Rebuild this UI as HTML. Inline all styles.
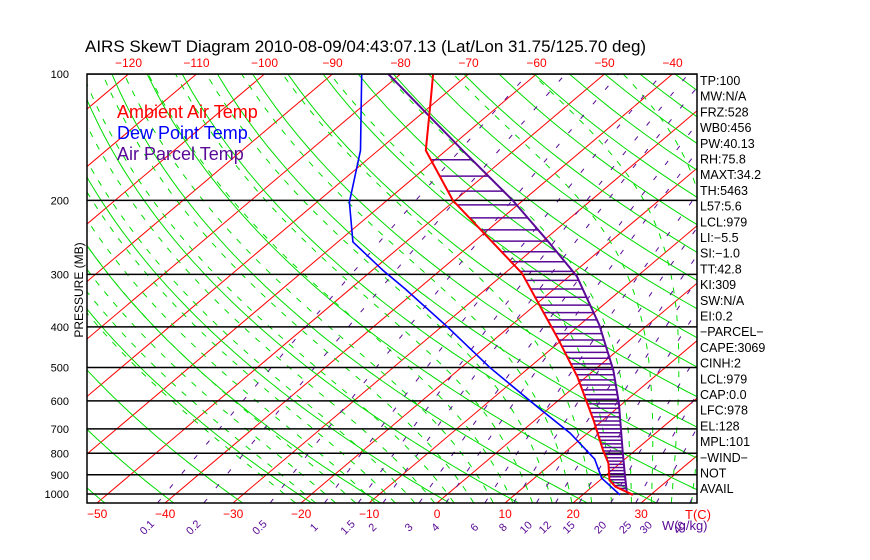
<!DOCTYPE html>
<html><head><meta charset="utf-8">
<style>
html,body{margin:0;padding:0;background:#fff;}
svg{display:block;font-family:"Liberation Sans",sans-serif;}
</style></head>
<body>
<svg id="chart" width="870" height="560" viewBox="0 0 870 560" xmlns="http://www.w3.org/2000/svg">
<defs><clipPath id="plotclip"><rect x="87" y="74" width="610" height="429"/></clipPath></defs>
<rect width="870" height="560" fill="#fff"/>
<text x="85" y="52" font-size="17" fill="#000">AIRS SkewT Diagram 2010-08-09/04:43:07.13 (Lat/Lon 31.75/125.70 deg)</text>
<g id="grid" clip-path="url(#plotclip)"></g>
<g id="series" clip-path="url(#plotclip)"></g>
<rect x="87" y="74" width="610" height="429" fill="none" stroke="#000" stroke-width="1.5"/>
<g id="axes"></g>
<text transform="translate(83,290) rotate(-90)" text-anchor="middle" font-size="12" fill="#000">PRESSURE (MB)</text>
<g>
<text x="117" y="118" font-size="18" fill="#ff0000">Ambient Air Temp</text>
<text x="117" y="139" font-size="18" fill="#0000ff">Dew Point Temp</text>
<text x="117" y="160" font-size="18" fill="#5a0a96">Air Parcel Temp</text>
</g>
<text x="685" y="519" font-size="13" fill="#ff0000">T(C)</text>
<text x="662" y="530" font-size="13" fill="#5a0a96">W(g/kg)</text>
<g id="stats"></g>
</svg>
<script>
// ---- data ----
const pressureTicks = [100,200,300,400,500,600,700,800,900,1000];
const topTempTicks = [-120,-110,-100,-90,-80,-70,-60,-50,-40];
const bottomTempTicks = [-50,-40,-30,-20,-10,0,10,20,30];
const mixingRatios = [0.1,0.2,0.5,1,1.5,2,3,4,6,8,10,12,15,20,25,30,40];
const envP = [100,117,152,200,298,423,526,667,786,845,927,961,1005];
const envT = [-75.2,-70.6,-63.0,-50.3,-27.5,-11.2,-1.3,8.6,15.2,18.3,21.4,23.4,27.4];
const dewP = [100,152,202,251,293,325,400,499,620,716,825,917,1005];
const dewT = [-85.7,-72.6,-65.2,-57.8,-48.5,-41.9,-29.1,-15.9,-2.0,7.4,15.5,19.9,25.5];
const parP = [100,153,200,253,303,396,507,608,798,910,989,1005];
const parT = [-81.8,-57.2,-41.5,-28.6,-18.9,-7.1,2.8,9.4,18.6,23.1,26.0,27.4];
const statLabels = ["TP:100","MW:N/A","FRZ:528","WB0:456","PW:40.13","RH:75.8","MAXT:34.2","TH:5463","L57:5.6","LCL:979","LI:-5.5","SI:-1.0","TT:42.8","KI:309","SW:N/A","EI:0.2","-PARCEL-","CAPE:3069","CINH:2","LCL:979","CAP:0.0","LFC:978","EL:128","MPL:101","-WIND-"," NOT","AVAIL"];

// ---- axes functions ----
const X0=437, YB=503, DX=6.8, SK=1.183, KP=182.4;
function yOf(p){return 74+KP*Math.log(p/100);}
function xOf(T,p){return X0+DX*T+SK*(YB-yOf(p));}
const NS="http://www.w3.org/2000/svg";
function mk(tag,attrs,parent){const e=document.createElementNS(NS,tag);for(const k in attrs)e.setAttribute(k,attrs[k]);parent.appendChild(e);return e;}
const grid=document.getElementById('grid'), series=document.getElementById('series'), axes=document.getElementById('axes'), stats=document.getElementById('stats');
function pathFrom(pts){return pts.map((q,i)=>(i?'L':'M')+q[0].toFixed(1)+','+q[1].toFixed(1)).join('');}
const PBOT=1050, PTOP=100;

// isotherms
for(let T=-170;T<=40;T+=10){
  const l=mk('line',{x1:xOf(T,PBOT),y1:yOf(PBOT),x2:xOf(T,PTOP),y2:yOf(PTOP),stroke:'#ff0000','stroke-width':1},grid);
  
  
}
// dry adiabats
for(let th=201.15;th<=480;th+=10){
  const pts=[];for(let p=PBOT;p>=PTOP-1;p-=10){const T=th*Math.pow(p/1000,0.286)-273.15;pts.push([xOf(T,p),yOf(p)]);}
  const e=mk('path',{d:pathFrom(pts),fill:'none',stroke:'#00dd00','stroke-width':1},grid);
  
  
}
// moist adiabats
function es(T){return 6.112*Math.exp(17.67*T/(T+243.5));}
for(let T0=-24;T0<=44;T0+=3){
  let T=T0+273.15,p=1000;const pts=[];
  let Td=T,pd=1000;
  for(let i=0;i<5;i++){const rs=0.622*es(Td-273.15)/(pd-es(Td-273.15));const g=(287*Td+2.5e6*rs)/(1004+2.5e6*2.5e6*rs*0.622/(287*Td*Td));const dp=10;Td+=g*Math.log((pd+dp)/pd);pd+=dp;}
  pts.push([xOf(Td-273.15,pd),yOf(pd)]);
  while(p>=PTOP){pts.push([xOf(T-273.15,p),yOf(p)]);const e=es(T-273.15);const rs=0.622*e/(p-e);const g=(287*T+2.5e6*rs)/(1004+2.5e6*2.5e6*rs*0.622/(287*T*T));const np=p-5;T+=g*Math.log(np/p);p=np;}
  const el=mk('path',{d:pathFrom(pts),fill:'none',stroke:'#00dd00','stroke-width':1,'stroke-dasharray':'6,8'},grid);
  
  
}
// mixing ratio lines
function Tw(w,p){const e=w*p/(622+w);const l=Math.log(e/6.112);return 243.5*l/(17.67-l);}
mixingRatios.forEach(w=>{
  const pts=[];for(let p=PBOT;p>=PTOP;p-=10){pts.push([xOf(Tw(w,p),p),yOf(p)]);}
  const el=mk('path',{d:pathFrom(pts),fill:'none',stroke:'#5a0a96','stroke-width':1,'stroke-dasharray':'5,14'},grid);
  
  
  const x=xOf(Tw(w,PBOT),PBOT)-8;
  const t=mk('text',{transform:`translate(${x.toFixed(1)},530) rotate(-45)`,'font-size':11,fill:'#5a0a96','text-anchor':'middle'},axes);
  t.textContent=String(w);
  
  
});
// pressure lines + labels
pressureTicks.forEach(p=>{
  const y=yOf(p);
  const l=mk('line',{x1:87,x2:697,y1:y,y2:y,stroke:'#000','stroke-width':1.5},grid);
  
  
  const t=mk('text',{x:69,y:y+4,'font-size':11,fill:'#000','text-anchor':'end'},axes);
  t.textContent=String(p);
  
  
});
topTempTicks.forEach(T=>{
  const t=mk('text',{x:xOf(T,PTOP),y:67,'font-size':12,fill:'#ff0000','text-anchor':'middle'},axes);
  t.textContent=String(T).replace('-','\u2212');
  
  
});
bottomTempTicks.forEach(T=>{
  const t=mk('text',{x:xOf(T,PBOT),y:518,'font-size':12,fill:'#ff0000','text-anchor':'middle'},axes);
  t.textContent=String(T).replace('-','\u2212');
  
  
});
// profiles
function interp(P,T,p){for(let i=0;i<P.length-1;i++){if(p>=P[i]&&p<=P[i+1]){const f=Math.log(p/P[i])/Math.log(P[i+1]/P[i]);return T[i]+f*(T[i+1]-T[i]);}}return null;}
for(let p=1000;p>=150;p-=15){
  const te=interp(envP,envT,p),tp=interp(parP,parT,p);
  if(te===null||tp===null||tp<=te)continue;
  const l=mk('line',{x1:xOf(te,p),x2:xOf(tp,p),y1:yOf(p),y2:yOf(p),stroke:'#5a0a96','stroke-width':1.5},series);
  
  
}
function prof(P,T,color,name,w){
  const el=mk('path',{d:pathFrom(P.map((p,i)=>[xOf(T[i],p),yOf(p)])),fill:'none',stroke:color,'stroke-width':w},series);
  
  
}
prof(parP,parT,'#5a0a96','air-parcel-temp-line',2);
prof(envP,envT,'#ff0000','ambient-air-temp-line',2);
prof(dewP,dewT,'#0000ff','dew-point-temp-line',1.6);
// stats
statLabels.forEach((s,i)=>{
  const t=mk('text',{x:700,y:85+i*15.7,'font-size':12.5,fill:'#000'},stats);
  t.textContent=s.replace(/-/g,'\u2212');
  
  
});
</script>
</body></html>
